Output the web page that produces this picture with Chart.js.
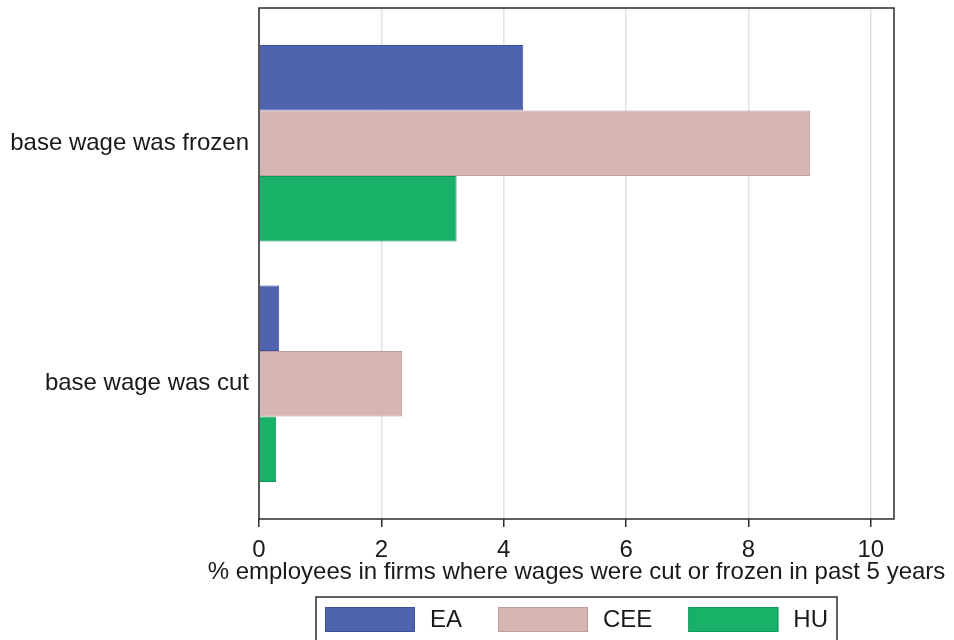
<!DOCTYPE html>
<html>
<head>
<meta charset="utf-8">
<script src="https://cdn.jsdelivr.net/npm/chart.js@4/dist/chart.umd.min.js"></script>
<style>
  html, body { margin: 0; padding: 0; background: #fff; }
  #wrap { width: 954px; height: 640px; }
</style>
</head>
<body>
<div id="wrap"><canvas id="chart" width="954" height="640"></canvas></div>
<script>
const categories = ['base wage was frozen', 'base wage was cut']
const seriesNames = ['EA', 'CEE', 'HU']
const eaValues = [4.32, 0.33]
const ceeValues = [9.01, 2.34]
const huValues = [3.23, 0.28]
const xTicks = [0, 2, 4, 6, 8, 10]
const xTitle = '% employees in firms where wages were cut or frozen in past 5 years'

const fills = ['#5063af', '#d6b6b3', '#19b068']
const borders = ['#3d4f9f', '#c29a97', '#10995a']
const FONT = "'Liberation Sans', Arial, sans-serif"
const TEXT = '#1a1a1a'

Chart.defaults.font.family = FONT
Chart.defaults.font.size = 24
Chart.defaults.color = TEXT

const toPoints = vals => vals.map((v, i) => ({ x: v, y: i }))

// frame around plot, axis title (allowed wider than the plot) and boxed legend
const framePlugin = {
  id: 'frame',
  afterDatasetsDraw(chart) {
    const { ctx, chartArea: a } = chart
    ctx.save()
    ctx.strokeStyle = '#2b2b2b'
    ctx.lineWidth = 1.5
    ctx.strokeRect(a.left, a.top, a.right - a.left, a.bottom - a.top)
    ctx.restore()
  },
  afterDraw(chart) {
    const { ctx, chartArea: a } = chart
    const cx = (a.left + a.right) / 2
    const top = chart.scales.x.bottom
    ctx.save()
    ctx.font = `24px ${FONT}`
    ctx.fillStyle = TEXT
    ctx.textAlign = 'center'
    ctx.textBaseline = 'middle'
    ctx.fillText(xTitle, cx, top - 25)

    const boxW = 90, boxH = 25, gap = 15, itemGap = 36, pad = 9
    ctx.textAlign = 'left'
    const widths = seriesNames.map(n => ctx.measureText(n).width)
    const total = widths.reduce((s, w) => s + boxW + gap + w, 0) + itemGap * (seriesNames.length - 1)
    const left = cx - total / 2 - pad
    ctx.strokeStyle = '#2b2b2b'
    ctx.lineWidth = 1.5
    ctx.strokeRect(left, top, total + pad * 2, 48)
    let x = left + pad
    const y = top + 10
    seriesNames.forEach((n, i) => {
      ctx.fillStyle = fills[i]
      ctx.fillRect(x, y, boxW, boxH)
      ctx.strokeStyle = borders[i]
      ctx.lineWidth = 1
      ctx.strokeRect(x + 0.5, y + 0.5, boxW - 1, boxH - 1)
      ctx.fillStyle = TEXT
      ctx.fillText(n, x + boxW + gap, y + boxH / 2 + 1)
      x += boxW + gap + widths[i] + itemGap
    })
    ctx.restore()
  }
}

new Chart(document.getElementById('chart'), {
  type: 'bar',
  data: {
    datasets: [
      { label: seriesNames[0], data: toPoints(eaValues) },
      { label: seriesNames[1], data: toPoints(ceeValues) },
      { label: seriesNames[2], data: toPoints(huValues) }
    ].map((d, i) => ({
      ...d,
      backgroundColor: fills[i],
      borderColor: borders[i],
      borderWidth: 1,
      categoryPercentage: 0.817,
      barPercentage: 1
    }))
  },
  options: {
    responsive: false,
    animation: false,
    indexAxis: 'y',
    layout: { padding: { top: 8, right: 60, bottom: 43, left: 0 } },
    plugins: { legend: { display: false }, tooltip: { enabled: false } },
    scales: {
      x: {
        type: 'linear',
        min: 0,
        max: 10.38,
        afterBuildTicks: scale => { scale.ticks = xTicks.map(v => ({ value: v })) },
        afterFit: scale => {
          scale.height = 78
          scale.paddingLeft = 0
          scale.paddingRight = 0
        },
        ticks: { color: TEXT, padding: 9, maxRotation: 0, font: { size: 24 } },
        grid: { color: '#e2e2e2', lineWidth: 1.5, tickColor: '#2b2b2b', tickLength: 8 },
        border: { display: false },
        title: { display: false }
      },
      y: {
        type: 'linear',
        offset: false,
        reverse: true,
        min: -0.5625,
        max: 1.5625,
        afterBuildTicks: scale => { scale.ticks = categories.map((c, i) => ({ value: i })) },
        afterFit: scale => {
          scale.width = 259
          scale.paddingTop = 0
          scale.paddingBottom = 0
        },
        ticks: { color: TEXT, padding: 10, font: { size: 24 }, callback: v => categories[v] },
        grid: { display: false, drawTicks: false, offset: false },
        border: { display: false }
      }
    }
  },
  plugins: [framePlugin]
})
</script>
</body>
</html>
